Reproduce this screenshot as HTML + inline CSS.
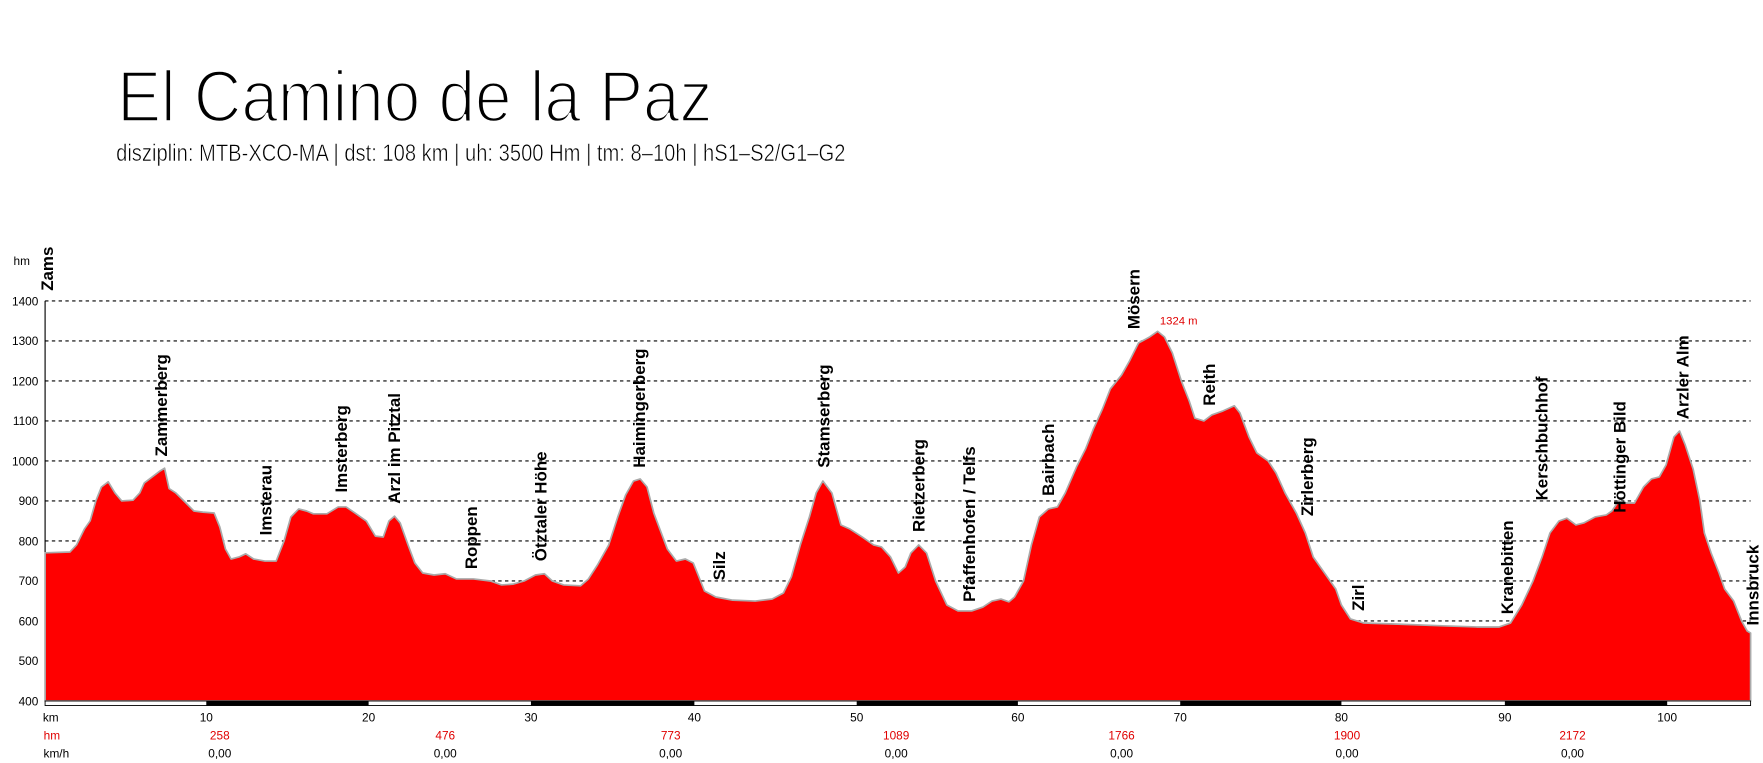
<!DOCTYPE html>
<html><head><meta charset="utf-8"><style>
html,body{margin:0;padding:0;background:#fff;}
svg{display:block;}
.lb{font-family:"Liberation Sans",sans-serif;font-weight:bold;font-size:15px;fill:#000;}
.ax{font-family:"Liberation Sans",sans-serif;font-size:10.5px;fill:#000;}
.axr{font-family:"Liberation Sans",sans-serif;font-size:10.5px;fill:#e00000;}
</style></head><body>
<svg width="1763" height="763" viewBox="0 0 1564 677" preserveAspectRatio="none" xmlns="http://www.w3.org/2000/svg">
<rect width="1564" height="677" fill="#fff"/>
<text x="104" y="108" font-family="Liberation Sans,sans-serif" font-size="64" textLength="528" lengthAdjust="spacingAndGlyphs" fill="#000" stroke="#fff" stroke-width="2.2">El Camino de la Paz</text>
<text x="103" y="143" font-family="Liberation Sans,sans-serif" font-size="21" textLength="647" lengthAdjust="spacingAndGlyphs" fill="#000" stroke="#fff" stroke-width="0.5">disziplin: MTB-XCO-MA  | dst: 108 km | uh: 3500 Hm | tm: 8–10h | hS1–S2/G1–G2</text>

<g stroke="#000" stroke-width="1" stroke-dasharray="3,3">
<line x1="40" x2="1553" y1="267" y2="267"/><line x1="40" x2="1553" y1="302.5" y2="302.5"/>
<line x1="40" x2="1553" y1="338" y2="338"/><line x1="40" x2="1553" y1="373.5" y2="373.5"/>
<line x1="40" x2="1553" y1="409" y2="409"/><line x1="40" x2="1553" y1="444.5" y2="444.5"/>
<line x1="40" x2="1553" y1="480" y2="480"/><line x1="40" x2="1553" y1="515.5" y2="515.5"/>
<line x1="40" x2="1553" y1="551" y2="551"/><line x1="40" x2="1553" y1="586.5" y2="586.5"/>
</g>
<line x1="40" x2="40" y1="267" y2="622" stroke="#000"/>
<g class="ax" text-anchor="end">
<text x="34" y="271">1400</text><text x="34" y="306">1300</text><text x="34" y="342">1200</text>
<text x="34" y="377">1100</text><text x="34" y="413">1000</text><text x="34" y="448">900</text>
<text x="34" y="484">800</text><text x="34" y="519">700</text><text x="34" y="555">600</text>
<text x="34" y="590">500</text><text x="34" y="626">400</text>
</g>
<text class="ax" x="12" y="235">hm</text>

<polygon fill="#ff0000" stroke="#aaa" stroke-width="1.5" stroke-linejoin="round" points="
40,622 40,490.5 62,489.8 68,483.4 75,469.2 80,462.1 85,444.5 90,432.1 96,427.5 102,437.4 108,444.5 118,443.8 124,437.4 128,428.5 135,423.2 142,417.9 146,415.4 150,433.5 156,437.4 165,446.3 172,453.4 180,454.4 190,455.2 195,467.6 200,487.1 205,496 212,494.2 218,491.4 225,496 235,497.8 245,497.8 252,480 258,458.7 265,451.6 272,453.4 278,455.9 290,455.9 300,449.8 307,449.8 315,455.2 325,462.3 333,475.7 340,476.5 345,462.3 350,458 355,464 362,483.5 368,499.5 375,508.4 385,510.2 395,509.1 405,513.7 420,513.7 435,515.5 445,519 455,518.3 465,515.5 475,510.2 483,509.1 490,515.5 500,519 515,519.8 522,513.7 530,501.3 540,483.5 548,458.7 555,439.2 562,426.8 568,425 574,432.1 580,455.2 586,471.2 592,487.1 600,497.8 608,496 615,499.5 620,511.9 625,524.4 635,529.7 650,532.5 670,533.3 685,531.5 695,526.2 702,511.9 710,483.5 718,458.7 724,437.4 730,426.8 738,437.4 746,465.8 754,469.4 765,476.5 775,483.5 782,485.3 790,494.2 797,508.4 803,503.1 808,490.7 815,483.5 822,490.7 830,515.5 840,536.8 850,542.1 862,542.1 872,538.6 880,533.3 888,531.5 895,534 900,529.7 908,515.5 915,483.5 922,458.7 930,451.6 938,449.8 945,437.4 955,414.3 963,398.4 970,380.6 978,362.9 985,345.1 995,332.7 1002,320.3 1010,304.3 1020,298.9 1027,294 1033,298.9 1040,313.1 1048,338 1055,355.8 1060,371 1068,373.5 1075,368.2 1085,364.6 1095,360 1100,366.4 1108,387.7 1115,401.9 1125,409 1132,419.7 1140,437.4 1150,455.2 1158,472.9 1165,494.2 1175,508.4 1185,522.6 1190,536.8 1198,549.2 1210,552.8 1240,553.8 1280,555.3 1310,556.3 1330,556.3 1340,552.8 1350,536.8 1360,515.5 1368,494.2 1375,472.9 1383,462.3 1390,459.8 1398,465.8 1405,464 1415,458.7 1425,456.9 1430,453.4 1436,444.5 1442,446.3 1450,446.3 1458,432.1 1465,425 1472,423.2 1478,412.6 1485,387.7 1490,382.4 1495,394.8 1502,416.1 1508,444.5 1512,472.9 1518,490.7 1525,508.4 1530,522.6 1538,533.3 1545,551 1550,559.9 1553,561.7 1553,622"/>

<rect x="40" y="622" width="1513" height="4" fill="#fff" stroke="#000" stroke-width="0.8"/>
<g fill="#000">
<rect x="183" y="622" width="144" height="4"/><rect x="471" y="622" width="145" height="4"/>
<rect x="760" y="622" width="143" height="4"/><rect x="1047" y="622" width="143" height="4"/>
<rect x="1335" y="622" width="144" height="4"/>
</g>
<g class="ax" text-anchor="middle">
<text x="45" y="640">km</text>
<text x="183" y="640">10</text><text x="327" y="640">20</text><text x="471" y="640">30</text>
<text x="616" y="640">40</text><text x="760" y="640">50</text><text x="903" y="640">60</text>
<text x="1047" y="640">70</text><text x="1190" y="640">80</text><text x="1335" y="640">90</text>
<text x="1479" y="640">100</text>
</g>
<g class="axr" text-anchor="middle">
<text x="46" y="656">hm</text>
<text x="195" y="656">258</text><text x="395" y="656">476</text><text x="595" y="656">773</text>
<text x="795" y="656">1089</text><text x="995" y="656">1766</text><text x="1195" y="656">1900</text>
<text x="1395" y="656">2172</text>
</g>
<g class="ax" text-anchor="middle">
<text x="50" y="672">km/h</text>
<text x="195" y="672">0,00</text><text x="395" y="672">0,00</text><text x="595" y="672">0,00</text>
<text x="795" y="672">0,00</text><text x="995" y="672">0,00</text><text x="1195" y="672">0,00</text>
<text x="1395" y="672">0,00</text>
</g>
<text x="1029" y="288" font-family="Liberation Sans,sans-serif" font-size="10" fill="#e00000">1324 m</text>

<g class="lb">
<text transform="translate(47,258) rotate(-90)">Zams</text>
<text transform="translate(148,405) rotate(-90)">Zammerberg</text>
<text transform="translate(241,475) rotate(-90)">Imsterau</text>
<text transform="translate(308,437) rotate(-90)">Imsterberg</text>
<text transform="translate(355,447) rotate(-90)">Arzl im Pitztal</text>
<text transform="translate(423,505) rotate(-90)">Roppen</text>
<text transform="translate(485,498) rotate(-90)">Ötztaler Höhe</text>
<text transform="translate(572,415) rotate(-90)">Haimingerberg</text>
<text transform="translate(643,515) rotate(-90)">Silz</text>
<text transform="translate(736,415) rotate(-90)">Stamserberg</text>
<text transform="translate(820,472) rotate(-90)">Rietzerberg</text>
<text transform="translate(865,534) rotate(-90)">Pfaffenhofen / Telfs</text>
<text transform="translate(935,440) rotate(-90)">Bairbach</text>
<text transform="translate(1011,292) rotate(-90)">Mösern</text>
<text transform="translate(1078,360) rotate(-90)">Reith</text>
<text transform="translate(1165,458) rotate(-90)">Zirlerberg</text>
<text transform="translate(1210,542) rotate(-90)">Zirl</text>
<text transform="translate(1342,545) rotate(-90)">Kranebitten</text>
<text transform="translate(1373,444) rotate(-90)">Kerschbuchhof</text>
<text transform="translate(1442,455) rotate(-90)">Höttinger Bild</text>
<text transform="translate(1498,372) rotate(-90)">Arzler Alm</text>
<text transform="translate(1560,555) rotate(-90)">Innsbruck</text>
</g>
</svg>
</body></html>
